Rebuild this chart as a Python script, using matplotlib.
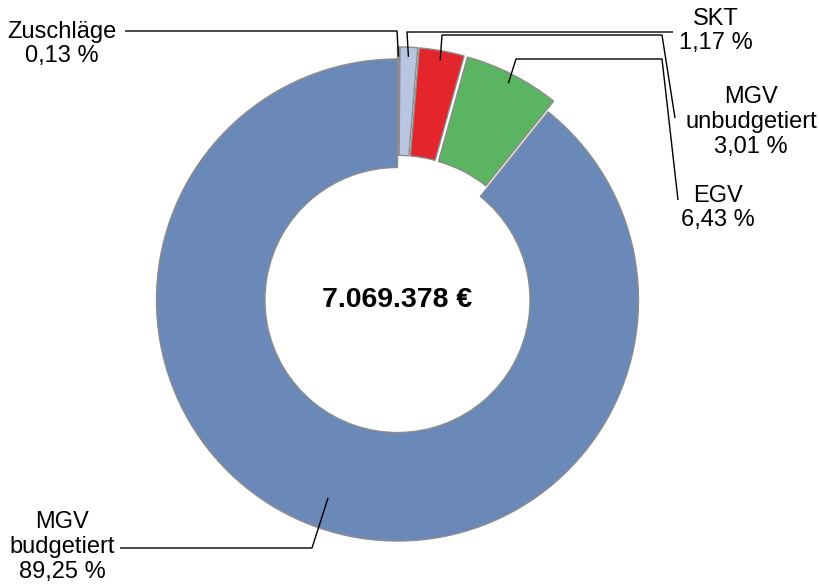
import numpy as np
import matplotlib
import matplotlib.pyplot as plt

matplotlib.rcParams["font.family"] = ["Liberation Sans", "DejaVu Sans"]

# shares in percent, clockwise from 12 o'clock
labels = ["Zuschläge", "SKT", "MGV\nunbudgetiert", "EGV", "MGV\nbudgetiert"]
shares = [0.13, 1.17, 3.01, 6.43, 89.25]
share_text = ["0,13 %", "1,17 %", "3,01 %", "6,43 %", "89,25 %"]
total_text = "7.069.378 €"

colors = ["#8f96a6", "#b9c6e2", "#e4262c", "#5bb462", "#6a88b8"]
explode = [0.05, 0.05, 0.05, 0.05, 0.0]

W, H = 819, 587
CX, CY, R = 397.5, 300.0, 241.0


def px(x, y):
    # pixel position -> data coordinates (radius 1 around the ring centre)
    return ((x - CX) / R, (CY - y) / R)


fig = plt.figure(figsize=(W / 100, H / 100), dpi=100)
ax = fig.add_axes([0, 0, 1, 1])

wedges, _ = ax.pie(
    shares,
    colors=colors,
    explode=explode,
    startangle=90,
    counterclock=False,
    radius=1.0,
    wedgeprops=dict(width=0.45, edgecolor="#8c8c8c", linewidth=1.0),
)

# pie() resets the limits, so set them afterwards
ax.set_xlim(-CX / R, (W - CX) / R)
ax.set_ylim(-(H - CY) / R, CY / R)
ax.set_aspect("equal")
ax.axis("off")

ax.text(0, 0, total_text, ha="center", va="center", fontsize=20.5,
        fontweight="bold")

# leader routes (in pixels) after the anchor point on each wedge
routes = [
    [(397, 31), (125, 31)],
    [(407, 32), (673, 32)],
    [(442, 35), (662, 35), (675, 118)],
    [(516, 59), (662, 59), (678, 200)],
    [(312, 548), (120, 548)],
]
anchor_r = [0.96, 0.96, 0.96, 0.96, 0.87]

# label text positions (centre, pixels)
label_pos = [(62, 44), (716, 31), (751, 122), (718, 208), (62, 547)]

for w, route, ar, lab, pct, (lx, ly) in zip(
        wedges, routes, anchor_r, labels, share_text, label_pos):
    mid = np.deg2rad((w.theta1 + w.theta2) / 2)
    cx, cy = w.center
    ax0 = cx + ar * np.cos(mid)
    ay0 = cy + ar * np.sin(mid)
    pts = [(ax0, ay0)] + [px(x, y) for x, y in route]
    xs, ys = zip(*pts)
    ax.plot(xs, ys, color="black", linewidth=1.0, solid_capstyle="butt")
    tx, ty = px(lx, ly)
    ax.text(tx, ty, lab + "\n" + pct, ha="center", va="center",
            fontsize=17, linespacing=1.15)

fig.savefig("out.png", dpi=100)
